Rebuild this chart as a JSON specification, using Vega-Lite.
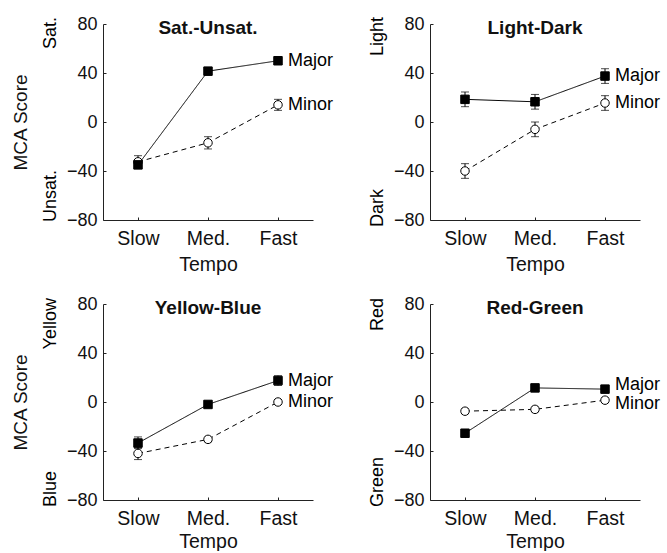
{
  "$schema": "https://vega.github.io/schema/vega-lite/v6.json",
  "padding": {"left": 11, "top": 15, "right": 5, "bottom": 0},
  "datasets": {
    "d": [
      {"panel": "Sat.-Unsat.", "mode": "Minor", "tempo": "Slow", "mean": -32.5, "lo": -37.5, "hi": -27.5},
      {"panel": "Sat.-Unsat.", "mode": "Minor", "tempo": "Med.", "mean": -17, "lo": -22, "hi": -12},
      {"panel": "Sat.-Unsat.", "mode": "Minor", "tempo": "Fast", "mean": 14, "lo": 9.5, "hi": 18.5},
      {"panel": "Sat.-Unsat.", "mode": "Major", "tempo": "Slow", "mean": -35, "lo": -38, "hi": -32},
      {"panel": "Sat.-Unsat.", "mode": "Major", "tempo": "Med.", "mean": 41.5, "lo": 38.5, "hi": 44.5},
      {"panel": "Sat.-Unsat.", "mode": "Major", "tempo": "Fast", "mean": 50, "lo": 47, "hi": 53},
      {"panel": "Light-Dark", "mode": "Minor", "tempo": "Slow", "mean": -40, "lo": -46, "hi": -34},
      {"panel": "Light-Dark", "mode": "Minor", "tempo": "Med.", "mean": -6, "lo": -12, "hi": 0},
      {"panel": "Light-Dark", "mode": "Minor", "tempo": "Fast", "mean": 15.5, "lo": 9.5, "hi": 21.5},
      {"panel": "Light-Dark", "mode": "Major", "tempo": "Slow", "mean": 18.5, "lo": 12.5, "hi": 24.5},
      {"panel": "Light-Dark", "mode": "Major", "tempo": "Med.", "mean": 16.5, "lo": 10.5, "hi": 22.5},
      {"panel": "Light-Dark", "mode": "Major", "tempo": "Fast", "mean": 37.5, "lo": 31.5, "hi": 43.5},
      {"panel": "Yellow-Blue", "mode": "Minor", "tempo": "Slow", "mean": -42, "lo": -47, "hi": -37},
      {"panel": "Yellow-Blue", "mode": "Minor", "tempo": "Med.", "mean": -30.5, "lo": -32.5, "hi": -28.5},
      {"panel": "Yellow-Blue", "mode": "Minor", "tempo": "Fast", "mean": 0, "lo": -2, "hi": 2},
      {"panel": "Yellow-Blue", "mode": "Major", "tempo": "Slow", "mean": -33.5, "lo": -38, "hi": -28.5},
      {"panel": "Yellow-Blue", "mode": "Major", "tempo": "Med.", "mean": -2, "lo": -4.5, "hi": 0.5},
      {"panel": "Yellow-Blue", "mode": "Major", "tempo": "Fast", "mean": 17.5, "lo": 13.5, "hi": 21.5},
      {"panel": "Red-Green", "mode": "Minor", "tempo": "Slow", "mean": -7.5, "lo": -9.5, "hi": -5.5},
      {"panel": "Red-Green", "mode": "Minor", "tempo": "Med.", "mean": -6, "lo": -8, "hi": -4},
      {"panel": "Red-Green", "mode": "Minor", "tempo": "Fast", "mean": 1.5, "lo": -0.5, "hi": 3.5},
      {"panel": "Red-Green", "mode": "Major", "tempo": "Slow", "mean": -25.5, "lo": -27.5, "hi": -23.5},
      {"panel": "Red-Green", "mode": "Major", "tempo": "Med.", "mean": 11.5, "lo": 9.5, "hi": 13.5},
      {"panel": "Red-Green", "mode": "Major", "tempo": "Fast", "mean": 10.5, "lo": 8.5, "hi": 12.5}
    ]
  },
  "columns": 2,
  "spacing": {"row": 84, "column": 117},
  "bounds": "flush",
  "concat": [
    {
      "width": 210, "height": 196,
      "title": "Sat.-Unsat.",
      "data": {"name": "d"},
      "transform": [{"filter": "datum.panel == 'Sat.-Unsat.'"}],
      "encoding": {
        "x": {"field": "tempo", "type": "ordinal", "sort": ["Slow", "Med.", "Fast"], "scale": {"type": "point", "padding": 0.5}, "axis": {"title": "Tempo"}}
      },
      "layer": [
        {"mark": {"type": "rule", "color": "black", "strokeWidth": 1},
         "encoding": {"y": {"field": "lo", "type": "quantitative", "scale": {"domain": [-80, 80]}, "axis": {"title": "MCA Score", "values": [-80, -40, 0, 40, 80]}}, "y2": {"field": "hi"}}},
        {"mark": {"type": "tick", "color": "black", "size": 8, "thickness": 1}, "encoding": {"y": {"field": "lo", "type": "quantitative", "axis": {"title": "MCA Score", "values": [-80, -40, 0, 40, 80]}}}},
        {"mark": {"type": "tick", "color": "black", "size": 8, "thickness": 1}, "encoding": {"y": {"field": "hi", "type": "quantitative", "axis": {"title": "MCA Score", "values": [-80, -40, 0, 40, 80]}}}},
        {"mark": {"type": "line", "color": "black", "strokeWidth": 1},
         "encoding": {"y": {"field": "mean", "type": "quantitative", "axis": {"title": "MCA Score", "values": [-80, -40, 0, 40, 80]}}, "strokeDash": {"field": "mode", "type": "nominal", "scale": {"domain": ["Major", "Minor"], "range": [[1, 0], [5, 4]]}, "legend": null}}},
        {"mark": {"type": "point", "filled": true, "stroke": "black", "strokeWidth": 1, "size": 72, "opacity": 1},
         "encoding": {"y": {"field": "mean", "type": "quantitative", "axis": {"title": "MCA Score", "values": [-80, -40, 0, 40, 80]}}, "shape": {"field": "mode", "type": "nominal", "scale": {"domain": ["Major", "Minor"], "range": ["square", "circle"]}, "legend": null}, "fill": {"field": "mode", "type": "nominal", "scale": {"domain": ["Major", "Minor"], "range": ["black", "white"]}, "legend": null}}},
        {"transform": [{"filter": "datum.tempo == 'Fast'"}], "mark": {"type": "text", "align": "left", "baseline": "middle", "dx": 10, "fontSize": 18, "color": "black"},
         "encoding": {"y": {"field": "mean", "type": "quantitative", "axis": {"title": "MCA Score", "values": [-80, -40, 0, 40, 80]}}, "text": {"field": "mode"}}},
        {"data": {"values": [{}]}, "mark": {"type": "text", "text": "Sat.", "angle": 270, "align": "right", "baseline": "middle", "dx": 7, "dy": -87, "fontSize": 18, "color": "black"},
         "encoding": {"x": {"datum": "Slow"}, "y": {"datum": 80, "axis": {"title": "MCA Score", "values": [-80, -40, 0, 40, 80]}}}},
        {"data": {"values": [{}]}, "mark": {"type": "text", "text": "Unsat.", "angle": 270, "align": "left", "baseline": "middle", "dx": -2, "dy": -87, "fontSize": 18, "color": "black"},
         "encoding": {"x": {"datum": "Slow"}, "y": {"datum": -80, "axis": {"title": "MCA Score", "values": [-80, -40, 0, 40, 80]}}}}
      ]
    },
    {
      "width": 210, "height": 196,
      "title": "Light-Dark",
      "data": {"name": "d"},
      "transform": [{"filter": "datum.panel == 'Light-Dark'"}],
      "encoding": {
        "x": {"field": "tempo", "type": "ordinal", "sort": ["Slow", "Med.", "Fast"], "scale": {"type": "point", "padding": 0.5}, "axis": {"title": "Tempo"}}
      },
      "layer": [
        {"mark": {"type": "rule", "color": "black", "strokeWidth": 1},
         "encoding": {"y": {"field": "lo", "type": "quantitative", "scale": {"domain": [-80, 80]}, "axis": {"title": null, "values": [-80, -40, 0, 40, 80]}}, "y2": {"field": "hi"}}},
        {"mark": {"type": "tick", "color": "black", "size": 8, "thickness": 1}, "encoding": {"y": {"field": "lo", "type": "quantitative", "axis": {"title": null, "values": [-80, -40, 0, 40, 80]}}}},
        {"mark": {"type": "tick", "color": "black", "size": 8, "thickness": 1}, "encoding": {"y": {"field": "hi", "type": "quantitative", "axis": {"title": null, "values": [-80, -40, 0, 40, 80]}}}},
        {"mark": {"type": "line", "color": "black", "strokeWidth": 1},
         "encoding": {"y": {"field": "mean", "type": "quantitative", "axis": {"title": null, "values": [-80, -40, 0, 40, 80]}}, "strokeDash": {"field": "mode", "type": "nominal", "scale": {"domain": ["Major", "Minor"], "range": [[1, 0], [5, 4]]}, "legend": null}}},
        {"mark": {"type": "point", "filled": true, "stroke": "black", "strokeWidth": 1, "size": 72, "opacity": 1},
         "encoding": {"y": {"field": "mean", "type": "quantitative", "axis": {"title": null, "values": [-80, -40, 0, 40, 80]}}, "shape": {"field": "mode", "type": "nominal", "scale": {"domain": ["Major", "Minor"], "range": ["square", "circle"]}, "legend": null}, "fill": {"field": "mode", "type": "nominal", "scale": {"domain": ["Major", "Minor"], "range": ["black", "white"]}, "legend": null}}},
        {"transform": [{"filter": "datum.tempo == 'Fast'"}], "mark": {"type": "text", "align": "left", "baseline": "middle", "dx": 10, "fontSize": 18, "color": "black"},
         "encoding": {"y": {"field": "mean", "type": "quantitative", "axis": {"title": null, "values": [-80, -40, 0, 40, 80]}}, "text": {"field": "mode"}}},
        {"data": {"values": [{}]}, "mark": {"type": "text", "text": "Light", "angle": 270, "align": "right", "baseline": "middle", "dx": 7, "dy": -87, "fontSize": 18, "color": "black"},
         "encoding": {"x": {"datum": "Slow"}, "y": {"datum": 80, "axis": {"title": null, "values": [-80, -40, 0, 40, 80]}}}},
        {"data": {"values": [{}]}, "mark": {"type": "text", "text": "Dark", "angle": 270, "align": "left", "baseline": "middle", "dx": -7, "dy": -87, "fontSize": 18, "color": "black"},
         "encoding": {"x": {"datum": "Slow"}, "y": {"datum": -80, "axis": {"title": null, "values": [-80, -40, 0, 40, 80]}}}}
      ]
    },
    {
      "width": 210, "height": 196,
      "title": "Yellow-Blue",
      "data": {"name": "d"},
      "transform": [{"filter": "datum.panel == 'Yellow-Blue'"}],
      "encoding": {
        "x": {"field": "tempo", "type": "ordinal", "sort": ["Slow", "Med.", "Fast"], "scale": {"type": "point", "padding": 0.5}, "axis": {"title": "Tempo", "titlePadding": 5}}
      },
      "layer": [
        {"mark": {"type": "rule", "color": "black", "strokeWidth": 1},
         "encoding": {"y": {"field": "lo", "type": "quantitative", "scale": {"domain": [-80, 80]}, "axis": {"title": "MCA Score", "values": [-80, -40, 0, 40, 80]}}, "y2": {"field": "hi"}}},
        {"mark": {"type": "tick", "color": "black", "size": 8, "thickness": 1}, "encoding": {"y": {"field": "lo", "type": "quantitative", "axis": {"title": "MCA Score", "values": [-80, -40, 0, 40, 80]}}}},
        {"mark": {"type": "tick", "color": "black", "size": 8, "thickness": 1}, "encoding": {"y": {"field": "hi", "type": "quantitative", "axis": {"title": "MCA Score", "values": [-80, -40, 0, 40, 80]}}}},
        {"mark": {"type": "line", "color": "black", "strokeWidth": 1},
         "encoding": {"y": {"field": "mean", "type": "quantitative", "axis": {"title": "MCA Score", "values": [-80, -40, 0, 40, 80]}}, "strokeDash": {"field": "mode", "type": "nominal", "scale": {"domain": ["Major", "Minor"], "range": [[1, 0], [5, 4]]}, "legend": null}}},
        {"mark": {"type": "point", "filled": true, "stroke": "black", "strokeWidth": 1, "size": 72, "opacity": 1},
         "encoding": {"y": {"field": "mean", "type": "quantitative", "axis": {"title": "MCA Score", "values": [-80, -40, 0, 40, 80]}}, "shape": {"field": "mode", "type": "nominal", "scale": {"domain": ["Major", "Minor"], "range": ["square", "circle"]}, "legend": null}, "fill": {"field": "mode", "type": "nominal", "scale": {"domain": ["Major", "Minor"], "range": ["black", "white"]}, "legend": null}}},
        {"transform": [{"filter": "datum.tempo == 'Fast'"}], "mark": {"type": "text", "align": "left", "baseline": "middle", "dx": 10, "fontSize": 18, "color": "black"},
         "encoding": {"y": {"field": "mean", "type": "quantitative", "axis": {"title": "MCA Score", "values": [-80, -40, 0, 40, 80]}}, "text": {"field": "mode"}}},
        {"data": {"values": [{}]}, "mark": {"type": "text", "text": "Yellow", "angle": 270, "align": "right", "baseline": "middle", "dx": 6, "dy": -87, "fontSize": 18, "color": "black"},
         "encoding": {"x": {"datum": "Slow"}, "y": {"datum": 80, "axis": {"title": "MCA Score", "values": [-80, -40, 0, 40, 80]}}}},
        {"data": {"values": [{}]}, "mark": {"type": "text", "text": "Blue", "angle": 270, "align": "left", "baseline": "middle", "dx": -7, "dy": -87, "fontSize": 18, "color": "black"},
         "encoding": {"x": {"datum": "Slow"}, "y": {"datum": -80, "axis": {"title": "MCA Score", "values": [-80, -40, 0, 40, 80]}}}}
      ]
    },
    {
      "width": 210, "height": 196,
      "title": "Red-Green",
      "data": {"name": "d"},
      "transform": [{"filter": "datum.panel == 'Red-Green'"}],
      "encoding": {
        "x": {"field": "tempo", "type": "ordinal", "sort": ["Slow", "Med.", "Fast"], "scale": {"type": "point", "padding": 0.5}, "axis": {"title": "Tempo", "titlePadding": 5}}
      },
      "layer": [
        {"mark": {"type": "rule", "color": "black", "strokeWidth": 1},
         "encoding": {"y": {"field": "lo", "type": "quantitative", "scale": {"domain": [-80, 80]}, "axis": {"title": null, "values": [-80, -40, 0, 40, 80]}}, "y2": {"field": "hi"}}},
        {"mark": {"type": "tick", "color": "black", "size": 8, "thickness": 1}, "encoding": {"y": {"field": "lo", "type": "quantitative", "axis": {"title": null, "values": [-80, -40, 0, 40, 80]}}}},
        {"mark": {"type": "tick", "color": "black", "size": 8, "thickness": 1}, "encoding": {"y": {"field": "hi", "type": "quantitative", "axis": {"title": null, "values": [-80, -40, 0, 40, 80]}}}},
        {"mark": {"type": "line", "color": "black", "strokeWidth": 1},
         "encoding": {"y": {"field": "mean", "type": "quantitative", "axis": {"title": null, "values": [-80, -40, 0, 40, 80]}}, "strokeDash": {"field": "mode", "type": "nominal", "scale": {"domain": ["Major", "Minor"], "range": [[1, 0], [5, 4]]}, "legend": null}}},
        {"mark": {"type": "point", "filled": true, "stroke": "black", "strokeWidth": 1, "size": 72, "opacity": 1},
         "encoding": {"y": {"field": "mean", "type": "quantitative", "axis": {"title": null, "values": [-80, -40, 0, 40, 80]}}, "shape": {"field": "mode", "type": "nominal", "scale": {"domain": ["Major", "Minor"], "range": ["square", "circle"]}, "legend": null}, "fill": {"field": "mode", "type": "nominal", "scale": {"domain": ["Major", "Minor"], "range": ["black", "white"]}, "legend": null}}},
        {"transform": [{"filter": "datum.tempo == 'Fast' && datum.mode == 'Major'"}], "mark": {"type": "text", "align": "left", "baseline": "middle", "dx": 10, "dy": -4, "fontSize": 18, "color": "black"},
         "encoding": {"y": {"field": "mean", "type": "quantitative", "axis": {"title": null, "values": [-80, -40, 0, 40, 80]}}, "text": {"field": "mode"}}},
        {"transform": [{"filter": "datum.tempo == 'Fast' && datum.mode == 'Minor'"}], "mark": {"type": "text", "align": "left", "baseline": "middle", "dx": 10, "dy": 4, "fontSize": 18, "color": "black"},
         "encoding": {"y": {"field": "mean", "type": "quantitative", "axis": {"title": null, "values": [-80, -40, 0, 40, 80]}}, "text": {"field": "mode"}}},
        {"data": {"values": [{}]}, "mark": {"type": "text", "text": "Red", "angle": 270, "align": "right", "baseline": "middle", "dx": 6, "dy": -87, "fontSize": 18, "color": "black"},
         "encoding": {"x": {"datum": "Slow"}, "y": {"datum": 80, "axis": {"title": null, "values": [-80, -40, 0, 40, 80]}}}},
        {"data": {"values": [{}]}, "mark": {"type": "text", "text": "Green", "angle": 270, "align": "left", "baseline": "middle", "dx": -7, "dy": -87, "fontSize": 18, "color": "black"},
         "encoding": {"x": {"datum": "Slow"}, "y": {"datum": -80, "axis": {"title": null, "values": [-80, -40, 0, 40, 80]}}}}
      ]
    }
  ],
  "config": {
    "font": "Liberation Sans",
    "view": {"stroke": null},
    "axis": {
      "grid": false,
      "domainColor": "#222222",
      "tickColor": "#222222",
      "labelColor": "#111111",
      "titleColor": "#111111",
      "titleFontWeight": "normal",
      "tickSize": -3
    },
    "axisX": {"labelAngle": 0, "labelFontSize": 19.5, "titleFontSize": 19.5, "labelPadding": 12, "titlePadding": 8},
    "axisY": {"labelFontSize": 18, "titleFontSize": 19, "labelPadding": 9, "titlePadding": 36},
    "title": {"fontSize": 19, "fontWeight": "bold", "color": "#111111", "anchor": "middle", "frame": "group", "offset": -23, "baseline": "alphabetic"}
  }
}
